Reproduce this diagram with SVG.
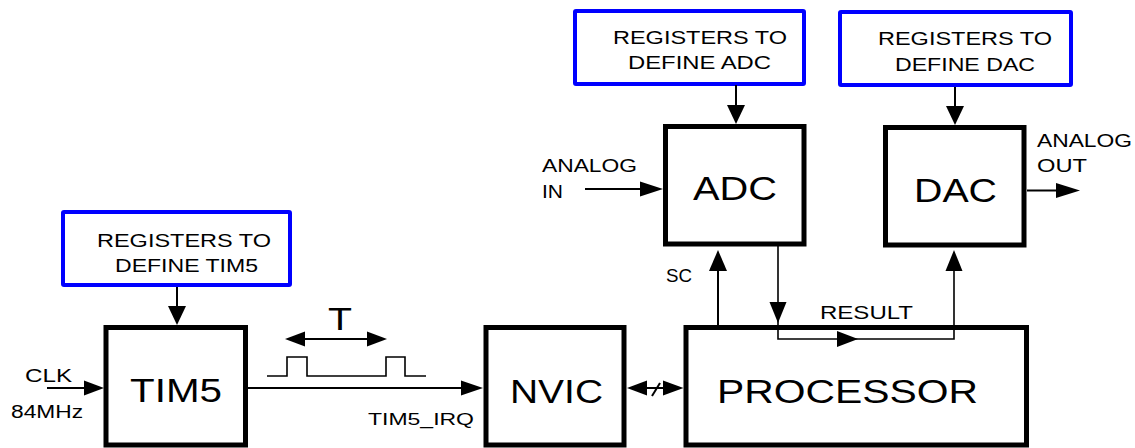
<svg xmlns="http://www.w3.org/2000/svg" width="1135" height="448" viewBox="0 0 1135 448">
<style>
.reg{fill:#fff;stroke:#0000ff;stroke-width:4}
.blk{fill:#fff;stroke:#000;stroke-width:5}
.t{font-family:"Liberation Sans",Arial,sans-serif;fill:#000}
.s{font-size:19px}
.m{font-size:18px}
.b{font-size:34px}
.ln{fill:none;stroke:#000;stroke-width:2}
.thin{fill:none;stroke:#000;stroke-width:1.6}
.ah{fill:#000}
</style>
<rect width="1135" height="448" fill="#fff"/>
<g id="reg-tim5">
<rect class="reg" x="63" y="212" width="227" height="73" rx="1"/>
<text class="t s" x="97" y="247" textLength="174" lengthAdjust="spacingAndGlyphs">REGISTERS TO</text>
<text class="t s" x="115" y="272" textLength="143" lengthAdjust="spacingAndGlyphs">DEFINE TIM5</text>
</g>
<g id="reg-adc">
<rect class="reg" x="575" y="11" width="229" height="73" rx="1"/>
<text class="t s" x="613" y="44" textLength="174" lengthAdjust="spacingAndGlyphs">REGISTERS TO</text>
<text class="t s" x="628" y="69" textLength="143" lengthAdjust="spacingAndGlyphs">DEFINE ADC</text>
</g>
<g id="reg-dac">
<rect class="reg" x="840" y="12" width="231" height="73" rx="1"/>
<text class="t s" x="878" y="45" textLength="174" lengthAdjust="spacingAndGlyphs">REGISTERS TO</text>
<text class="t s" x="895" y="71" textLength="140" lengthAdjust="spacingAndGlyphs">DEFINE DAC</text>
</g>
<g id="tim5">
<rect class="blk" x="106" y="327.5" width="139.5" height="117.5"/>
<text class="t b" x="130" y="402" textLength="92" lengthAdjust="spacingAndGlyphs">TIM5</text>
</g>
<g id="nvic">
<rect class="blk" x="486" y="327.5" width="138" height="117.5"/>
<text class="t b" x="510" y="403" textLength="93" lengthAdjust="spacingAndGlyphs">NVIC</text>
</g>
<g id="processor">
<rect class="blk" x="686" y="327.5" width="340.5" height="117.5"/>
<text class="t b" x="717" y="403" textLength="261" lengthAdjust="spacingAndGlyphs">PROCESSOR</text>
</g>
<g id="adc">
<rect class="blk" x="665.5" y="126.5" width="138.5" height="117.5"/>
<text class="t b" x="693" y="200" textLength="84" lengthAdjust="spacingAndGlyphs">ADC</text>
</g>
<g id="dac">
<rect class="blk" x="885.5" y="127.5" width="138.5" height="117.5"/>
<text class="t b" x="914" y="201.5" textLength="83" lengthAdjust="spacingAndGlyphs">DAC</text>
</g>
<g id="connectors">
<line class="ln" x1="177" y1="287" x2="177" y2="307"/>
<polygon class="ah" points="168,306 186,306 177,325"/>
<line class="ln" x1="47" y1="388" x2="85" y2="388"/>
<polygon class="ah" points="84,380.5 84,395.5 104,388"/>
<line class="ln" x1="248" y1="388" x2="462" y2="388"/>
<polygon class="ah" points="461,380.5 461,395.5 483,388"/>
<line class="ln" x1="304" y1="339" x2="368" y2="339"/>
<polygon class="ah" points="285,339 305,331.5 305,346.5"/>
<polygon class="ah" points="387,339 367,331.5 367,346.5"/>
<polyline class="thin" points="267,376 287,376 287,357 307,357 307,376 386,376 386,357 405,357 405,376 426,376"/>
<line class="ln" x1="646" y1="388" x2="664" y2="388"/>
<polygon class="ah" points="627,388 647,380.5 647,395.5"/>
<polygon class="ah" points="683.5,388 663,380.5 663,395.5"/>
<line class="ln" x1="652" y1="396" x2="660" y2="383"/>
<line class="ln" x1="736" y1="85" x2="736" y2="106"/>
<polygon class="ah" points="727,105 745,105 736,124"/>
<line class="ln" x1="585" y1="189" x2="641" y2="189"/>
<polygon class="ah" points="640,181.5 640,196.5 663,189"/>
<line class="ln" x1="955" y1="87" x2="955" y2="107"/>
<polygon class="ah" points="946,106 964,106 955,125"/>
<line class="ln" x1="1027" y1="190.5" x2="1058" y2="190.5"/>
<polygon class="ah" points="1056,183 1056,198 1080,190.5"/>
<line class="ln" x1="718" y1="326" x2="718" y2="270"/>
<polygon class="ah" points="709,271 727,271 718,250"/>
<polyline class="thin" points="778,246 778,339 954,339 954,270"/>
<polygon class="ah" points="769.5,302 786.5,302 778,323"/>
<polygon class="ah" points="837,331 837,347 858,339"/>
<polygon class="ah" points="945.5,271 962.5,271 954,250"/>
</g>
<g id="labels">
<text class="t m" x="25" y="382" textLength="47" lengthAdjust="spacingAndGlyphs">CLK</text>
<text class="t m" x="11" y="418" textLength="72" lengthAdjust="spacingAndGlyphs">84MHz</text>
<text class="t" font-size="32" x="328" y="330" textLength="24" lengthAdjust="spacingAndGlyphs">T</text>
<text class="t" font-size="17" x="368" y="425" textLength="106" lengthAdjust="spacingAndGlyphs">TIM5_IRQ</text>
<text class="t m" x="542" y="172" textLength="95" lengthAdjust="spacingAndGlyphs">ANALOG</text>
<text class="t m" x="542" y="198" textLength="21" lengthAdjust="spacingAndGlyphs">IN</text>
<text class="t m" x="1037" y="147" textLength="95" lengthAdjust="spacingAndGlyphs">ANALOG</text>
<text class="t m" x="1037" y="172" textLength="50" lengthAdjust="spacingAndGlyphs">OUT</text>
<text class="t m" x="666" y="282" textLength="26" lengthAdjust="spacingAndGlyphs">SC</text>
<text class="t s" x="820" y="319" textLength="93" lengthAdjust="spacingAndGlyphs">RESULT</text>
</g>
</svg>
